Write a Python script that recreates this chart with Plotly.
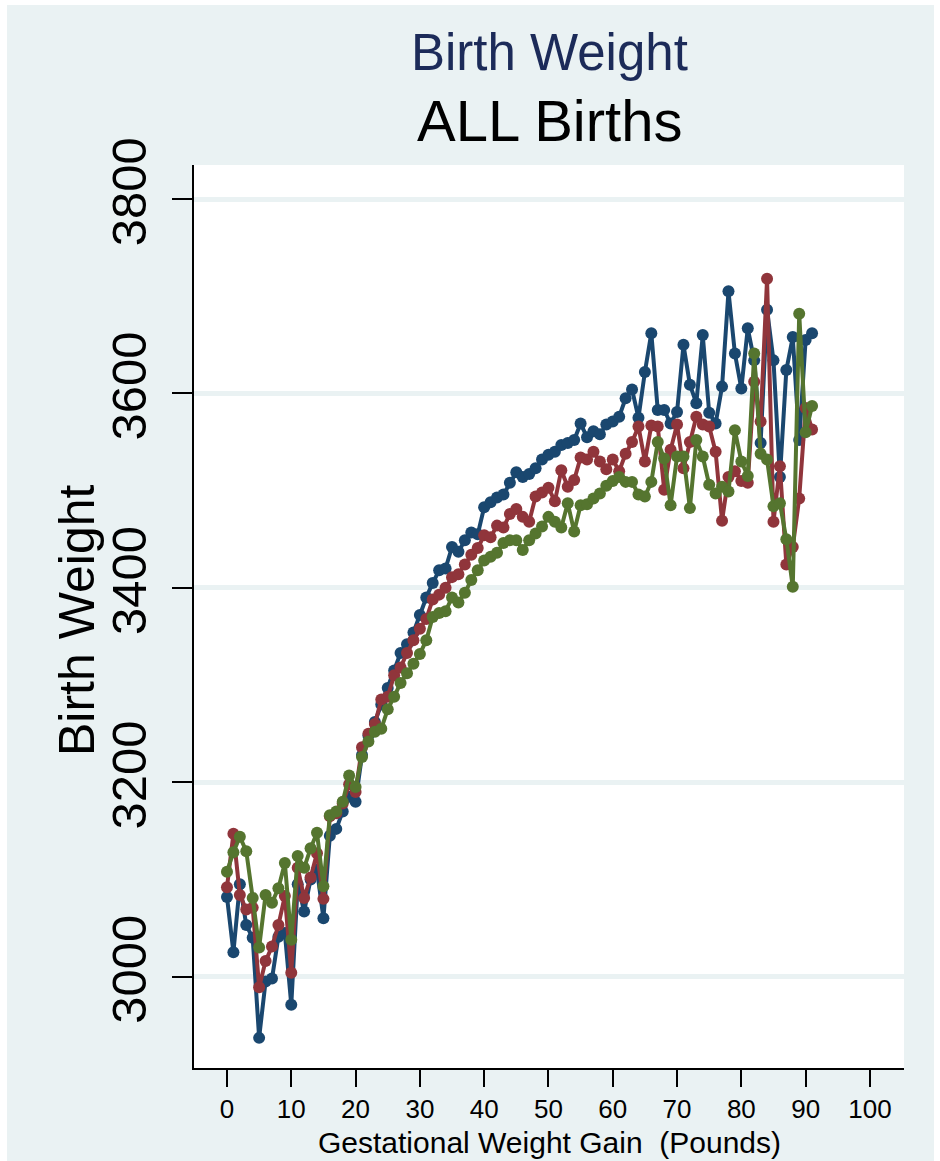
import plotly.graph_objects as go

gain = list(range(92))

bw_blue = [3082, 3025, 3095, 3053, 3040, 2937, 2995, 2998, 3041, 3045,
           2971, 3095, 3067, 3100, 3110, 3060, 3145, 3152, 3170, 3185,
           3180, 3228, 3248, 3262, 3280, 3297, 3315, 3333, 3342, 3354,
           3372, 3390, 3405, 3418, 3420, 3442, 3437, 3449, 3457, 3455,
           3483, 3488, 3493, 3496, 3508, 3519, 3514, 3517, 3523, 3532,
           3537, 3540, 3547, 3549, 3552, 3569, 3555, 3561, 3558, 3568,
           3571, 3576, 3595, 3604, 3575, 3622, 3662, 3583, 3583, 3569,
           3581, 3650, 3609, 3590, 3660, 3580, 3569, 3607, 3705, 3641,
           3605, 3667, 3634, 3549, 3686, 3634, 3514, 3624, 3658, 3552,
           3655, 3662]

bw_red = [3092, 3147, 3084, 3069, 3071, 2989, 3016, 3031, 3053, 3083,
          3004, 3112, 3081, 3102, 3127, 3080, 3165, 3168, 3178, 3198,
          3190, 3236, 3250, 3260, 3285, 3288, 3310, 3318, 3333, 3346,
          3358, 3368, 3388, 3393, 3400, 3411, 3414, 3424, 3434, 3441,
          3454, 3452, 3464, 3462, 3476, 3481, 3473, 3468, 3494, 3498,
          3503, 3489, 3521, 3504, 3511, 3534, 3532, 3540, 3530, 3522,
          3532, 3520, 3538, 3550, 3566, 3530, 3567, 3566, 3501, 3542,
          3568, 3523, 3550, 3576, 3568, 3566, 3540, 3469, 3514, 3520,
          3510, 3508, 3612, 3571, 3718, 3468, 3525, 3424, 3442, 3492,
          3585, 3563]

bw_green = [3108, 3128, 3144, 3129, 3081, 3030, 3084, 3076, 3091, 3117,
            3038, 3124, 3112, 3132, 3148, 3093, 3166, 3170, 3180, 3207,
            3195, 3226, 3242, 3252, 3255, 3275, 3288, 3302, 3312, 3322,
            3332, 3346, 3370, 3374, 3376, 3390, 3385, 3395, 3408, 3418,
            3428, 3432, 3436, 3446, 3449, 3449, 3439, 3449, 3456, 3463,
            3473, 3468, 3462, 3487, 3458, 3485, 3486, 3492, 3497, 3505,
            3510, 3514, 3509, 3509, 3496, 3494, 3509, 3550, 3533, 3485,
            3535, 3535, 3482, 3552, 3535, 3506, 3497, 3504, 3499, 3562,
            3530, 3515, 3641, 3538, 3532, 3484, 3487, 3450, 3401, 3682,
            3560, 3587]

x_ticks = [0, 10, 20, 30, 40, 50, 60, 70, 80, 90, 100]
y_ticks = [3000, 3200, 3400, 3600, 3800]

FONT = "Liberation Sans, Arial, sans-serif"
BG = "#EAF2F3"

fig = go.Figure()
for vals, col in [(bw_blue, "#1A476F"), (bw_red, "#90353B"), (bw_green, "#55752F")]:
    fig.add_trace(go.Scatter(
        x=gain, y=vals, mode="lines+markers",
        line=dict(color=col, width=4),
        marker=dict(color=col, size=12),
        showlegend=False, hoverinfo="skip"))

W, H = 940, 1161
L, R, T, B = 194, 36, 165, 93
pw, ph = W - L - R, H - T - B

def px(xp):
    return (xp - L) / pw

def py(yp):
    return (H - B - yp) / ph

fig.update_layout(
    width=W, height=H,
    margin=dict(l=L, r=R, t=T, b=B, pad=0),
    paper_bgcolor=BG, plot_bgcolor="white",
    font=dict(family=FONT, color="black"),
    xaxis=dict(range=[-5.13, 105.3], tickmode="array", tickvals=x_ticks,
               ticks="outside", ticklen=17, tickwidth=2, tickcolor="black",
               showline=True, linecolor="black", linewidth=2,
               showgrid=False, zeroline=False,
               tickfont=dict(size=26, family=FONT, color="black"),
               ticklabelstandoff=0),
    yaxis=dict(range=[2906, 3835], tickmode="array", tickvals=y_ticks,
               ticks="outside", ticklen=20, tickwidth=2, tickcolor="black",
               showline=True, linecolor="black", linewidth=2,
               showgrid=True, gridcolor=BG, gridwidth=5, zeroline=False,
               tickangle=-90,
               tickfont=dict(size=49, family=FONT, color="black"),
               ticklabelstandoff=6),
    annotations=[
        dict(text="Birth Weight", xref="paper", yref="paper", x=0.5, y=py(52),
             xanchor="center", yanchor="middle", showarrow=False,
             font=dict(size=51, family=FONT, color="#1C2B59")),
        dict(text="ALL Births", xref="paper", yref="paper", x=0.5, y=py(120),
             xanchor="center", yanchor="middle", showarrow=False,
             font=dict(size=58, family=FONT, color="black")),
        dict(text="Birth Weight", xref="paper", yref="paper", x=px(77), y=py(620),
             xanchor="center", yanchor="middle", showarrow=False, textangle=-90,
             font=dict(size=50, family=FONT, color="black")),
        dict(text="Gestational Weight Gain&nbsp;&nbsp;(Pounds)", xref="paper", yref="paper",
             x=0.5, y=py(1142), xanchor="center", yanchor="middle", showarrow=False,
             font=dict(size=30, family=FONT, color="black")),
    ],
    shapes=[
        dict(type="rect", xref="paper", yref="paper", x0=px(0), x1=px(W), y0=py(5), y1=py(0),
             fillcolor="white", line=dict(width=0), layer="above"),
        dict(type="rect", xref="paper", yref="paper", x0=px(0), x1=px(7), y0=py(H), y1=py(0),
             fillcolor="white", line=dict(width=0), layer="above"),
        dict(type="rect", xref="paper", yref="paper", x0=px(934), x1=px(W), y0=py(H), y1=py(0),
             fillcolor="white", line=dict(width=0), layer="above"),
    ],
)

fig.write_html("out.html")
